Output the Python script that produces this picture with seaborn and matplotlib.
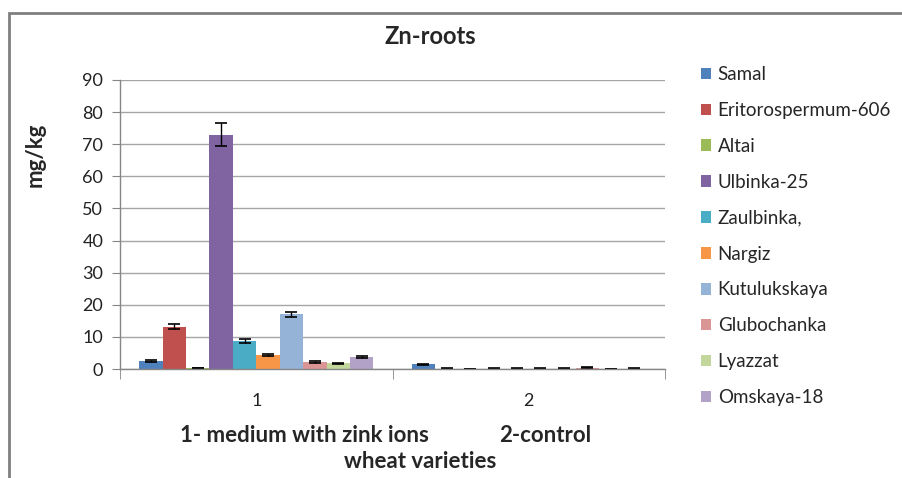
import numpy as np
import pandas as pd
import matplotlib
matplotlib.use('Agg')
import matplotlib.pyplot as plt
import seaborn as sns
from matplotlib.patches import Rectangle

# dados
grupos = ['1', '2']
variedades = ['Samal', 'Eritorospermum-606', 'Altai', 'Ulbinka-25', 'Zaulbinka,',
              'Nargiz', 'Kutulukskaya', 'Glubochanka', 'Lyazzat', 'Omskaya-18']
valores_g1 = [2.6, 13.2, 0.3, 73.0, 8.7, 4.4, 17.0, 2.2, 1.8, 3.7]
valores_g2 = [1.5, 0.15, 0.1, 0.15, 0.15, 0.15, 0.15, 0.4, 0.1, 0.15]
erros_g1 = [0.3, 0.8, 0.1, 3.6, 0.5, 0.2, 0.8, 0.2, 0.2, 0.2]
erros_g2 = [0.2, 0.05, 0.05, 0.05, 0.05, 0.05, 0.05, 0.1, 0.05, 0.05]
cores = ['#4F81BD', '#C0504D', '#9BBB59', '#8064A2', '#4BACC6',
         '#F79646', '#95B3D7', '#D99694', '#C3D69B', '#B2A2C7']

df = pd.DataFrame({
    'grupo': np.repeat(grupos, len(variedades)),
    'variedade': variedades * 2,
    'valor': valores_g1 + valores_g2,
    'erro': erros_g1 + erros_g2,
})

sns.set_style('white')
plt.rcParams['font.family'] = ['Lato', 'DejaVu Sans']

fig = plt.figure(figsize=(9.03, 4.78), dpi=100)
ax = fig.add_axes([120 / 903, 1 - 369 / 478, 545 / 903, 289 / 478])

sns.barplot(data=df, x='grupo', y='valor', hue='variedade', hue_order=variedades,
            palette=cores, width=0.86, errorbar=None, ax=ax, saturation=1,
            edgecolor='none')

# barras de erro
barras = list(ax.containers)
for i, container in enumerate(barras):
    sub = df[df['variedade'] == variedades[i]]
    xs = [p.get_x() + p.get_width() / 2 for p in container.patches]
    ax.errorbar(xs, sub['valor'].values, yerr=sub['erro'].values, fmt='none',
                ecolor='black', elinewidth=1, capsize=4, capthick=1.2)

ax.set_ylim(0, 90)
ax.set_yticks(range(0, 91, 10))
ax.set_xlim(-0.5, 1.5)
ax.yaxis.grid(True, color='#A6A6A6', linewidth=1)
ax.set_axisbelow(True)
for s in ['top', 'right']:
    ax.spines[s].set_visible(False)
for s in ['left', 'bottom']:
    ax.spines[s].set_color('#868686')
    ax.spines[s].set_linewidth(1)
ax.tick_params(axis='y', left=True, length=6, color='#868686', labelsize=13,
               pad=6, labelcolor='#222222')
ax.tick_params(axis='x', bottom=False, labelsize=13, pad=14, labelcolor='#222222')
# marcas entre categorias
ax.set_xticks([-0.5, 0.5, 1.5], minor=True)
ax.tick_params(axis='x', which='minor', bottom=True, length=7, color='#868686')
ax.set_xlabel('')
ax.set_ylabel('')

leg = ax.legend(loc='upper left', bbox_to_anchor=(684 / 903, 1 - 49 / 478),
                bbox_transform=fig.transFigure, frameon=False, fontsize=13.5,
                handlelength=0.55, handleheight=0.55, handletextpad=0.35,
                labelspacing=1.01)

fig.text(430 / 903, 1 - 36 / 478, 'Zn-roots', ha='center', va='center',
         fontsize=17, fontweight='bold')
fig.text(35 / 903, 1 - 155 / 478, 'mg/kg', ha='center', va='center',
         rotation=90, fontsize=16, fontweight='bold')
fig.text(304 / 903, 1 - 436 / 478, '1- medium with zink ions', ha='center',
         va='center', fontsize=16, fontweight='bold')
fig.text(545 / 903, 1 - 436 / 478, '2-control', ha='center',
         va='center', fontsize=16, fontweight='bold')
fig.text(420 / 903, 1 - 462 / 478, 'wheat varieties', ha='center',
         va='center', fontsize=16, fontweight='bold')

# moldura do grafico
fig.patches.append(Rectangle((9 / 903, -0.1), 1.2, 1 - 13 / 478 + 0.1,
                             transform=fig.transFigure, fill=False,
                             edgecolor='#808080', linewidth=2))

fig.savefig('out.png', dpi=100)
